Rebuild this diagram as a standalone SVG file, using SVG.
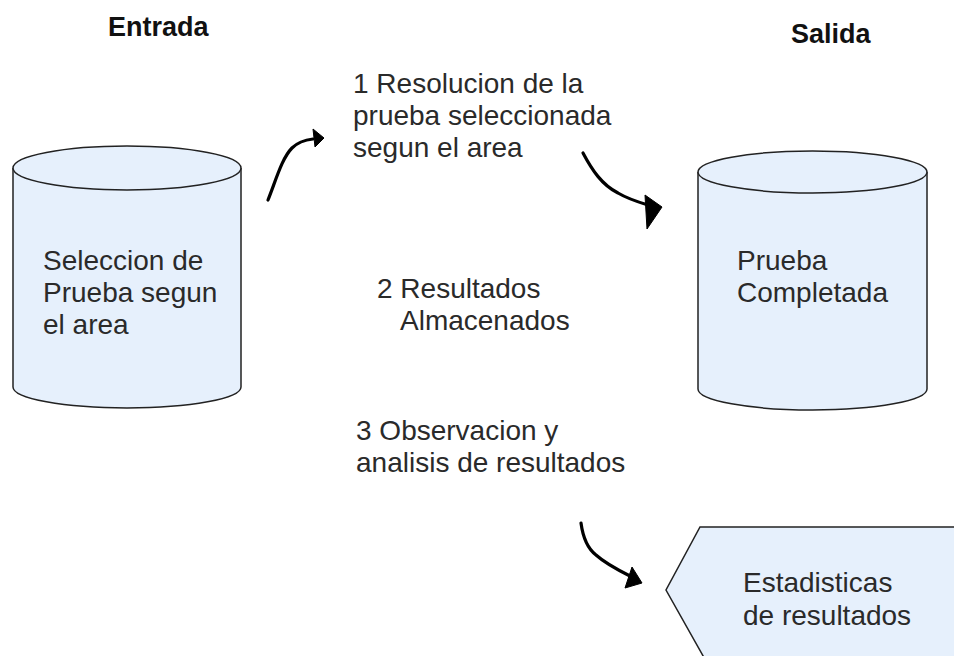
<svg xmlns="http://www.w3.org/2000/svg" width="954" height="656" viewBox="0 0 954 656">
<style>
.shape{fill:#E6F0FC;stroke:#222;stroke-width:1.5}
.t{font-family:"Liberation Sans",Arial,sans-serif;font-size:28px;fill:#2a2a2a}
.h{font-family:"Liberation Sans",Arial,sans-serif;font-size:27px;font-weight:bold;fill:#111}
.arr{fill:none;stroke:#000;stroke-width:3.2;stroke-linecap:round}
.head{fill:#000;stroke:#000;stroke-width:1;stroke-linejoin:round}
</style>
<rect width="954" height="656" fill="#fff"/>
<text class="h" x="108" y="36">Entrada</text>
<text class="h" x="791" y="43">Salida</text>
<g id="entrada">
<path class="shape" d="M13,168 L13,387 A114,21 0 0 0 241,387 L241,168"/>
<ellipse class="shape" cx="127" cy="168" rx="114" ry="22"/>
<text class="t" x="43" y="270">Seleccion de</text>
<text class="t" x="43" y="302">Prueba segun</text>
<text class="t" x="43" y="334">el area</text>
</g>
<g id="salida">
<path class="shape" d="M698,172 L698,389 A114.5,21 0 0 0 927,389 L927,172"/>
<ellipse class="shape" cx="812.5" cy="172" rx="114.5" ry="21"/>
<text class="t" x="737" y="270">Prueba</text>
<text class="t" x="737" y="302">Completada</text>
</g>
<g id="estadisticas">
<polygon class="shape" points="700,527 960,527 960,670 711,670 666,590"/>
<text class="t" x="743" y="592">Estadisticas</text>
<text class="t" x="743" y="625">de resultados</text>
</g>
<g id="paso1">
<text class="t" x="353" y="93">1 Resolucion de la</text>
<text class="t" x="353" y="125">prueba seleccionada</text>
<text class="t" x="353" y="157">segun el area</text>
</g>
<g id="paso2">
<text class="t" x="377" y="298">2 Resultados</text>
<text class="t" x="400" y="330">Almacenados</text>
</g>
<g id="paso3">
<text class="t" x="356" y="440">3 Observacion y</text>
<text class="t" x="356" y="472">analisis de resultados</text>
</g>
<g id="connectors">
<path class="arr" d="M268,200 C276,180 282,158 292,148 C298,142 304,140 313,139"/>
<polygon class="head" points="313,129 324,138 315,147"/>
<path class="arr" d="M583,153 C592,170 602,185 618,193 C628,199 638,202 648,205"/>
<polygon class="head" points="645,195 662,207 647,229"/>
<path class="arr" d="M581,523 C583,538 587,548 596,555 C606,564 618,570 630,576"/>
<polygon class="head" points="632,567 642,583 625,588"/>
</g>
</svg>
